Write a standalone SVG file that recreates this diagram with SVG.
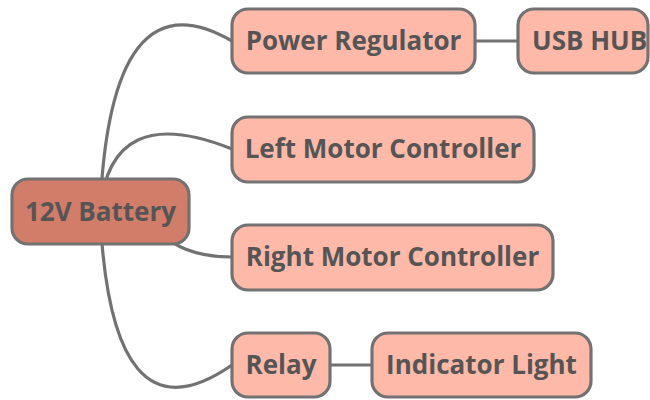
<svg xmlns="http://www.w3.org/2000/svg" width="650" height="400" viewBox="0 0 650 400">
<style>
.box{fill:#ffb9a9;stroke:#727272;stroke-width:3.2}
.root{fill:#d27c6a;stroke:#727272;stroke-width:3.2}
.lbl{font-family:"Open Sans","Noto Sans",sans-serif;font-weight:bold;font-size:26px;fill:#555555;text-anchor:middle}
.edge{fill:none;stroke:#727272;stroke-width:3.2}
</style>
<rect width="650" height="400" fill="#ffffff"/>
<g id="connectors">
<path class="edge" d="M100,211 Q110,-30 232,41"/>
<path class="edge" d="M100,211 Q110,100 232,149"/>
<path class="edge" d="M100,211 C160,211 155,257 232,257"/>
<path class="edge" d="M100,211 Q110,450 232,365"/>
<path class="edge" d="M475,41 L518,41"/>
<path class="edge" d="M330,365 L372,365"/>
</g>
<g id="battery">
<rect class="root" x="12" y="179" width="177" height="65" rx="16"/>
<text class="lbl" x="100.5" y="221">12V Battery</text>
</g>
<g id="power-regulator">
<rect class="box" x="232" y="9" width="243" height="64" rx="16"/>
<text class="lbl" x="353.5" y="50">Power Regulator</text>
</g>
<g id="usb-hub">
<rect class="box" x="518" y="9" width="130" height="64" rx="16"/>
<text class="lbl" x="532" y="50" style="text-anchor:start">USB HUB</text>
</g>
<g id="left-motor-controller">
<rect class="box" x="232" y="117" width="302" height="65" rx="16"/>
<text class="lbl" x="383" y="158">Left Motor Controller</text>
</g>
<g id="right-motor-controller">
<rect class="box" x="232" y="225" width="321" height="65" rx="16"/>
<text class="lbl" x="392.5" y="266">Right Motor Controller</text>
</g>
<g id="relay">
<rect class="box" x="232" y="333" width="98" height="64" rx="16"/>
<text class="lbl" x="281" y="374">Relay</text>
</g>
<g id="indicator-light">
<rect class="box" x="372" y="333" width="219" height="64" rx="16"/>
<text class="lbl" x="481.5" y="374">Indicator Light</text>
</g>
</svg>
